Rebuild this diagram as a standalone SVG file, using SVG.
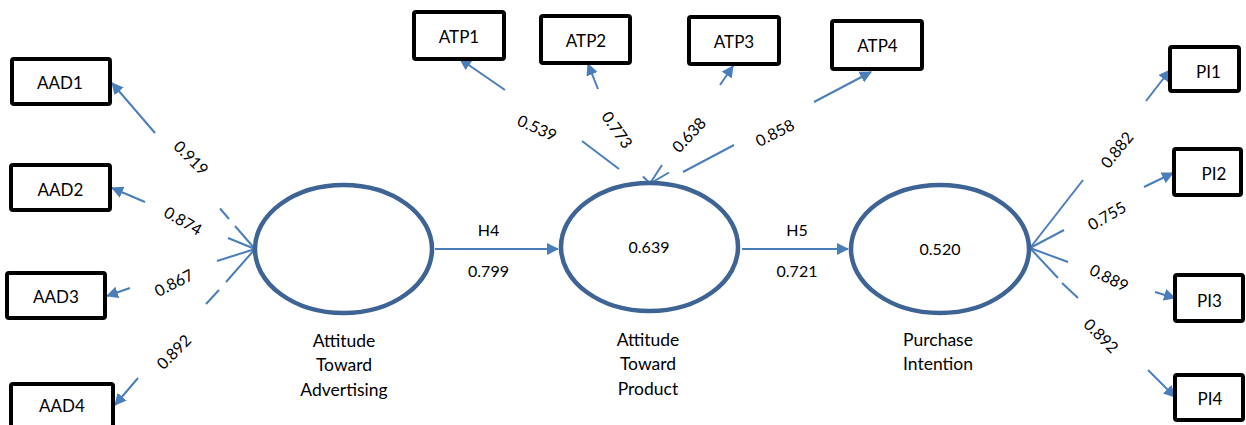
<svg xmlns="http://www.w3.org/2000/svg" width="1246" height="425" viewBox="0 0 1246 425">
  <style>
    .box { fill: #ffffff; stroke: #000000; stroke-width: 4; }
    .box-text { font-family: Lato, "Open Sans", "Liberation Sans", sans-serif; font-size: 17px; fill: #000; text-anchor: middle; }
    .latent { fill: #ffffff; stroke: #3d6494; stroke-width: 4.5; }
    .latent-text { font-family: Lato, "Open Sans", "Liberation Sans", sans-serif; font-size: 16px; fill: #000; text-anchor: middle; }
    .latent-name { font-family: Lato, "Open Sans", "Liberation Sans", sans-serif; font-size: 17.5px; fill: #000; text-anchor: middle; }
    .edge { stroke: #4a7ebb; stroke-width: 2; fill: none; }
    .arrow { stroke: #4a7ebb; stroke-width: 2; fill: none; marker-end: url(#head); }
    .coef { font-family: Lato, "Open Sans", "Liberation Sans", sans-serif; font-size: 16px; fill: #000; text-anchor: middle; }
  </style>
  <defs>
    <marker id="head" viewBox="0 0 12 12" refX="11" refY="6" markerWidth="12" markerHeight="12" markerUnits="userSpaceOnUse" orient="auto">
      <path d="M0,0 L12,6 L0,12 Z" fill="#4a7ebb"/>
    </marker>
  </defs>

  <rect width="1246" height="425" fill="#ffffff"/>

  <!-- connectors -->
  <g id="connectors">
    <!-- Attitude Toward Advertising -> AAD indicators -->
    <line class="edge" x1="255" y1="249" x2="235" y2="226"/>
    <line class="edge" x1="229" y1="219" x2="220" y2="208.5"/>
    <line class="arrow" x1="155" y1="133" x2="112" y2="83"/>

    <line class="edge" x1="255" y1="249" x2="228" y2="238"/>
    <line class="arrow" x1="145" y1="202" x2="112" y2="188"/>

    <line class="edge" x1="255" y1="249" x2="217" y2="261"/>
    <line class="arrow" x1="130" y1="288" x2="107" y2="296"/>

    <line class="edge" x1="255" y1="249" x2="226" y2="282"/>
    <line class="edge" x1="219" y1="290" x2="206" y2="304"/>
    <line class="arrow" x1="138" y1="378" x2="115" y2="405"/>

    <!-- Attitude Toward Product -> ATP indicators -->
    <line class="edge" x1="619" y1="169" x2="582" y2="141"/>
    <line class="arrow" x1="505" y1="90" x2="460" y2="59"/>
    <line class="arrow" x1="598" y1="89" x2="588" y2="64"/>
    <line class="arrow" x1="720" y1="85" x2="733" y2="66"/>
    <line class="edge" x1="683" y1="172" x2="734" y2="145"/>
    <line class="arrow" x1="814" y1="102" x2="871" y2="72"/>
    <!-- small open head on top of the product construct -->
    <path class="edge" d="M662,165 L650,183.5 M643,176.5 L650,183.5 L669,172.5" stroke-width="1.8"/>

    <!-- structural paths -->
    <line class="arrow" x1="435" y1="249" x2="558" y2="249"/>
    <line class="arrow" x1="742" y1="249" x2="848" y2="249"/>

    <!-- Purchase Intention -> PI indicators -->
    <line class="edge" x1="1030" y1="248" x2="1083" y2="180"/>
    <line class="arrow" x1="1146" y1="101" x2="1170" y2="70"/>

    <line class="edge" x1="1030" y1="248" x2="1064" y2="230"/>
    <line class="arrow" x1="1144" y1="187" x2="1173" y2="173"/>

    <line class="edge" x1="1030" y1="248" x2="1068" y2="262"/>
    <line class="arrow" x1="1155" y1="292" x2="1175" y2="298"/>

    <line class="edge" x1="1030" y1="248" x2="1058" y2="278"/>
    <line class="edge" x1="1062" y1="283" x2="1078" y2="298"/>
    <line class="arrow" x1="1148" y1="370" x2="1175" y2="397"/>

    <!-- loadings and path coefficients -->
    <text class="coef" transform="translate(191,158) rotate(45)" dy="0.35em">0.919</text>
    <text class="coef" transform="translate(183,221) rotate(30)" dy="0.35em">0.874</text>
    <text class="coef" transform="translate(174,283) rotate(-27)" dy="0.35em">0.867</text>
    <text class="coef" transform="translate(174,352) rotate(-45)" dy="0.35em">0.892</text>

    <text class="coef" transform="translate(537,128) rotate(24)" dy="0.35em">0.539</text>
    <text class="coef" transform="translate(617,130) rotate(55)" dy="0.35em">0.773</text>
    <text class="coef" transform="translate(689,135) rotate(-47)" dy="0.35em">0.638</text>
    <text class="coef" transform="translate(775,133) rotate(-27)" dy="0.35em">0.858</text>

    <text class="coef" transform="translate(1117,150) rotate(-51)" dy="0.35em">0.882</text>
    <text class="coef" transform="translate(1107,216) rotate(-30)" dy="0.35em">0.755</text>
    <text class="coef" transform="translate(1109,278) rotate(27)" dy="0.35em">0.889</text>
    <text class="coef" transform="translate(1101,336) rotate(45)" dy="0.35em">0.892</text>

    <text class="coef" x="488.5" y="236">H4</text>
    <text class="coef" x="488.5" y="277">0.799</text>
    <text class="coef" x="797" y="236">H5</text>
    <text class="coef" x="797" y="277">0.721</text>
  </g>

  <!-- latent constructs -->
  <g id="attitude-toward-advertising">
    <ellipse class="latent" cx="343.5" cy="249" rx="88.5" ry="64"/>
    <text class="latent-name" x="344" y="347">Attitude</text>
    <text class="latent-name" x="344" y="371">Toward</text>
    <text class="latent-name" x="344" y="396">Advertising</text>
  </g>
  <g id="attitude-toward-product">
    <ellipse class="latent" cx="649.5" cy="247" rx="88.5" ry="64"/>
    <text class="latent-text" x="649" y="253">0.639</text>
    <text class="latent-name" x="648" y="346">Attitude</text>
    <text class="latent-name" x="648" y="370">Toward</text>
    <text class="latent-name" x="648" y="395">Product</text>
  </g>
  <g id="purchase-intention">
    <ellipse class="latent" cx="940" cy="249" rx="89" ry="64"/>
    <text class="latent-text" x="940" y="255">0.520</text>
    <text class="latent-name" x="938" y="346">Purchase</text>
    <text class="latent-name" x="938" y="370">Intention</text>
  </g>

  <!-- indicators: Attitude Toward Advertising -->
  <g id="AAD1">
    <rect class="box" x="12" y="59" width="98" height="45" rx="2"/>
    <text class="box-text" x="60" y="89">AAD1</text>
  </g>
  <g id="AAD2">
    <rect class="box" x="11" y="165" width="99" height="45" rx="2"/>
    <text class="box-text" x="60.5" y="196">AAD2</text>
  </g>
  <g id="AAD3">
    <rect class="box" x="7" y="273" width="98" height="45" rx="2"/>
    <text class="box-text" x="56" y="303">AAD3</text>
  </g>
  <g id="AAD4">
    <rect class="box" x="11" y="384" width="102" height="50" rx="2"/>
    <text class="box-text" x="62" y="412">AAD4</text>
  </g>

  <!-- indicators: Attitude Toward Product -->
  <g id="ATP1">
    <rect class="box" x="414" y="12" width="90" height="47" rx="2"/>
    <text class="box-text" x="459" y="43">ATP1</text>
  </g>
  <g id="ATP2">
    <rect class="box" x="541" y="16" width="89" height="47" rx="2"/>
    <text class="box-text" x="586" y="46.5">ATP2</text>
  </g>
  <g id="ATP3">
    <rect class="box" x="689" y="17" width="90" height="47" rx="2"/>
    <text class="box-text" x="734" y="48">ATP3</text>
  </g>
  <g id="ATP4">
    <rect class="box" x="832" y="21" width="90" height="48" rx="2"/>
    <text class="box-text" x="877.5" y="52">ATP4</text>
  </g>

  <!-- indicators: Purchase Intention -->
  <g id="PI1">
    <rect class="box" x="1170" y="47" width="69" height="44" rx="2"/>
    <text class="box-text" x="1208.5" y="77.5">PI1</text>
  </g>
  <g id="PI2">
    <rect class="box" x="1174" y="149" width="67" height="46" rx="2"/>
    <text class="box-text" x="1214" y="180">PI2</text>
  </g>
  <g id="PI3">
    <rect class="box" x="1175" y="275" width="68" height="46" rx="2"/>
    <text class="box-text" x="1209.5" y="306.5">PI3</text>
  </g>
  <g id="PI4">
    <rect class="box" x="1175" y="375" width="68" height="45" rx="2"/>
    <text class="box-text" x="1210" y="405">PI4</text>
  </g>
</svg>
